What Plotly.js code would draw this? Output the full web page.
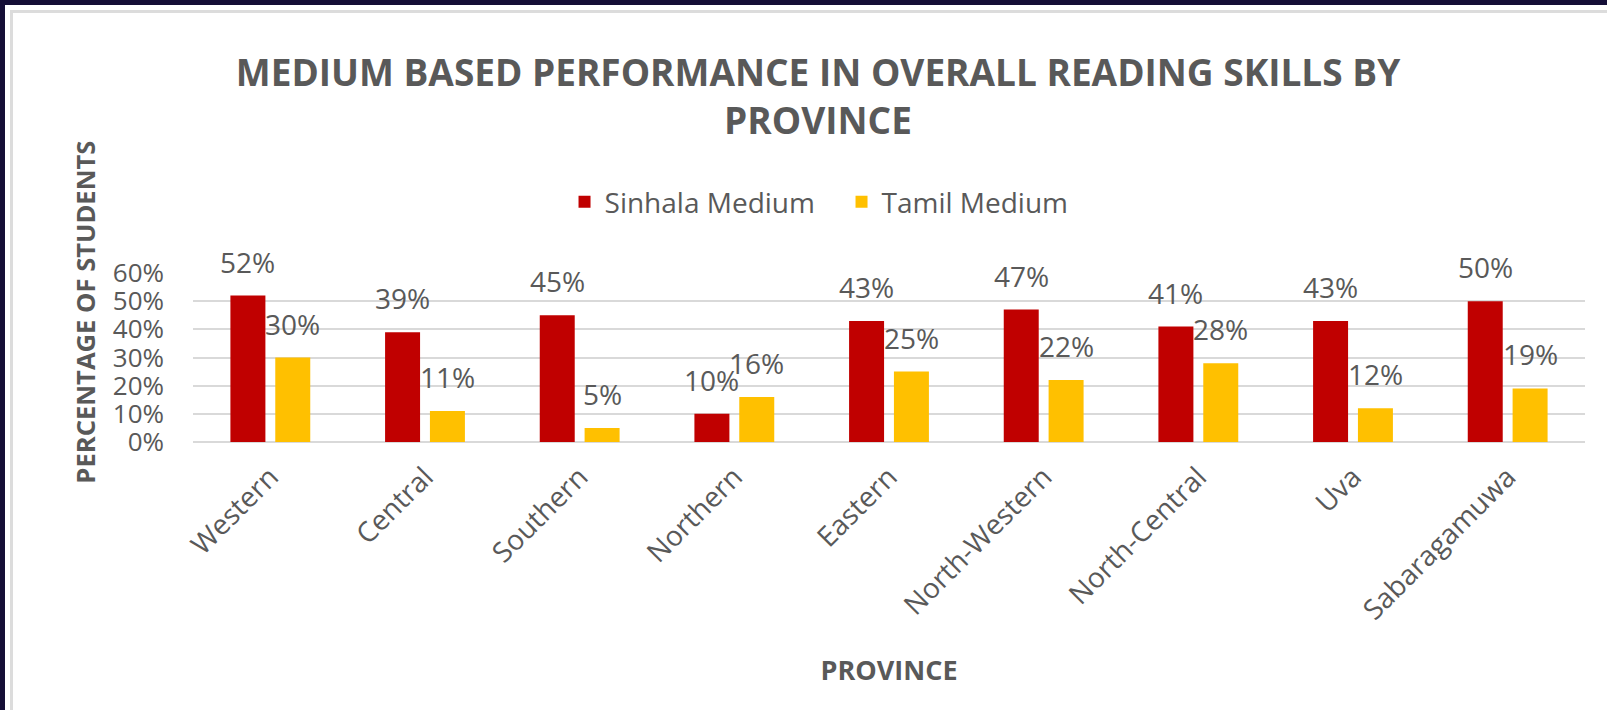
<!DOCTYPE html>
<html>
<head>
<meta charset="utf-8">
<script src="https://cdn.plot.ly/plotly-3.0.1.min.js"></script>
<style>
  html, body { margin: 0; padding: 0; width: 1607px; height: 710px; overflow: hidden; background: #ffffff; }
  #chart { position: absolute; left: 5px; top: 5px; width: 1602px; height: 705px; }
  #bandTop { position: absolute; left: 0; top: 0; width: 1607px; height: 5px; background: #140e36; }
  #bandLeft { position: absolute; left: 0; top: 0; width: 5px; height: 710px; background: #140e36; }
  #edge { position: absolute; left: 10px; top: 10px; width: 1597px; height: 700px;
          border-top: 3px solid #dcdcdc; border-left: 3px solid #dcdcdc; pointer-events: none; box-sizing: border-box; }
</style>
</head>
<body>
<div id="chart"></div>
<div id="bandTop"></div>
<div id="bandLeft"></div>
<div id="edge"></div>
<script>
const provinces = ["Western", "Central", "Southern", "Northern", "Eastern", "North-Western", "North-Central", "Uva", "Sabaragamuwa"];
const sinhalaMedium = [52, 39, 45, 10, 43, 47, 41, 43, 50];
const tamilMedium = [30, 11, 5, 16, 25, 22, 28, 12, 19];
const yTickValues = [0, 10, 20, 30, 40, 50, 60];
const yTickLabels = ["0%", "10%", "20%", "30%", "40%", "50%", "60%"];

const FONT = "'Open Sans', 'Liberation Sans', sans-serif";
const GREY = "#595959";

const traces = [
  { type: "bar", name: "Sinhala Medium", x: provinces, y: sinhalaMedium,
    marker: { color: "#C00000" }, hoverinfo: "x+y" },
  { type: "bar", name: "Tamil Medium", x: provinces, y: tamilMedium,
    marker: { color: "#FFC000" }, hoverinfo: "x+y" }
];

const annotations = [];
provinces.forEach((p, i) => {
  annotations.push({ x: p, y: sinhalaMedium[i], xref: "x", yref: "y", text: sinhalaMedium[i] + "%",
    showarrow: false, xshift: -22.5, yshift: 34, yanchor: "middle",
    font: { family: FONT, size: 28, color: GREY } });
  annotations.push({ x: p, y: tamilMedium[i], xref: "x", yref: "y", text: tamilMedium[i] + "%",
    showarrow: false, xshift: 22.5, yshift: 34, yanchor: "middle",
    font: { family: FONT, size: 28, color: GREY } });
});
// y-axis title (placed as in the reference, above the axis centre)
annotations.push({ xref: "paper", yref: "paper", x: -0.0769, y: 0.771, xanchor: "center", yanchor: "middle",
  text: "PERCENTAGE OF STUDENTS", textangle: -90, showarrow: false,
  font: { family: FONT, size: 25.6, color: GREY, weight: "bold" } });

const layout = {
  width: 1602, height: 705,
  paper_bgcolor: "#ffffff", plot_bgcolor: "#ffffff",
  margin: { l: 188, r: 22, t: 268, b: 268, autoexpand: false },
  font: { family: FONT, color: GREY },
  title: {
    text: "MEDIUM BASED PERFORMANCE IN OVERALL READING SKILLS BY<br>PROVINCE",
    x: 0.5075, xref: "container", xanchor: "center",
    y: 0.885, yref: "container", yanchor: "top",
    font: { family: FONT, size: 37, color: GREY, weight: "bold" }
  },
  barmode: "group", bargap: 0.42, bargroupgap: 0.22,
  showlegend: true,
  legend: {
    orientation: "h", x: 0.2669, xanchor: "left", y: 1.42, yanchor: "middle",
    font: { family: FONT, size: 28, color: GREY }, bgcolor: "rgba(0,0,0,0)",
    traceorder: "normal", entrywidth: 232, entrywidthmode: "pixels"
  },
  xaxis: {
    type: "category", tickangle: -45, showgrid: false, showline: false, zeroline: false, ticks: "",
    tickfont: { family: FONT, size: 28, color: GREY }, automargin: false, ticklabelstandoff: 12,
    title: { text: "PROVINCE", standoff: 34, font: { family: FONT, size: 27, color: GREY, weight: "bold" } }
  },
  yaxis: {
    range: [0, 60], tickvals: yTickValues, ticktext: yTickLabels,
    showgrid: true, gridcolor: "#d9d9d9", gridwidth: 2, zeroline: true, zerolinecolor: "#d9d9d9", zerolinewidth: 2,
    showline: false, ticks: "", ticklabelstandoff: 28, automargin: false,
    tickfont: { family: FONT, size: 26, color: GREY }
  },
  annotations: annotations
};

Plotly.newPlot("chart", traces, layout, { displayModeBar: false, staticPlot: true });
</script>
</body>
</html>
